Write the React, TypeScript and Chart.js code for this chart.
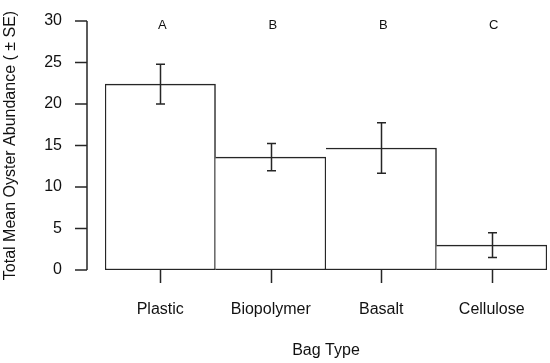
import React, { useEffect, useRef } from 'react';
import { Chart, registerables } from 'chart.js';

Chart.register(...registerables);

const categories = ['Plastic', 'Biopolymer', 'Basalt', 'Cellulose'];
const means = [22.4, 13.6, 14.7, 3.0];
const standardErrors = [2.4, 1.65, 3.05, 1.5];
const groupLetters = ['A', 'B', 'B', 'C'];
const yTicks = [0, 5, 10, 15, 20, 25, 30];
const letterLevel = 29.5;

const INK = '#262626';
const FONT = '"Liberation Sans", Arial, sans-serif';

const overlay = {
  id: 'overlay',
  afterDatasetsDraw(chart: any) {
    const { ctx, chartArea } = chart;
    const xs = chart.scales.x;
    const ys = chart.scales.y;
    ctx.save();
    ctx.strokeStyle = INK;
    ctx.lineWidth = 1.5;
    ctx.lineCap = 'butt';

    // error bars
    const meta = chart.getDatasetMeta(0);
    meta.data.forEach((bar: any, i: number) => {
      const cx = Math.round(bar.x) + 0.5;
      const top = ys.getPixelForValue(means[i] + standardErrors[i]);
      const bot = ys.getPixelForValue(means[i] - standardErrors[i]);
      ctx.beginPath();
      ctx.moveTo(cx, top);
      ctx.lineTo(cx, bot);
      ctx.moveTo(cx - 4.5, top);
      ctx.lineTo(cx + 4.5, top);
      ctx.moveTo(cx - 4.5, bot);
      ctx.lineTo(cx + 4.5, bot);
      ctx.stroke();
    });

    // y axis line and ticks
    const axX = chartArea.left - 18;
    ctx.beginPath();
    ctx.moveTo(axX, ys.getPixelForValue(yTicks[0]));
    ctx.lineTo(axX, ys.getPixelForValue(yTicks[yTicks.length - 1]));
    yTicks.forEach((v) => {
      const py = ys.getPixelForValue(v);
      ctx.moveTo(axX - 12, py);
      ctx.lineTo(axX, py);
    });
    ctx.stroke();

    // x ticks
    ctx.beginPath();
    categories.forEach((_, i) => {
      const px = Math.round(xs.getPixelForValue(i)) + 0.5;
      ctx.moveTo(px, chartArea.bottom);
      ctx.lineTo(px, chartArea.bottom + 13);
    });
    ctx.stroke();

    // group letters
    ctx.fillStyle = '#111';
    ctx.font = `13px ${FONT}`;
    ctx.textAlign = 'center';
    ctx.textBaseline = 'middle';
    groupLetters.forEach((t, i) => {
      ctx.fillText(t, xs.getPixelForValue(i) + 2, ys.getPixelForValue(letterLevel));
    });
    ctx.restore();
  },
};

export default function App() {
  const ref = useRef<HTMLCanvasElement | null>(null);
  useEffect(() => {
    document.body.style.margin = '0';
    const canvas = ref.current;
    if (!canvas) return;
    const chart = new Chart(canvas, {
      type: 'bar',
      data: {
        labels: categories,
        datasets: [
          {
            data: means,
            backgroundColor: '#ffffff',
            borderColor: INK,
            borderWidth: (c: any) => ({
              top: 1.5,
              bottom: 1.5,
              right: 1.5,
              left: c.dataIndex === 0 ? 1.5 : 0,
            }),
            borderSkipped: false,
            categoryPercentage: 1,
            barPercentage: 1,
          },
        ],
      },
      options: {
        animation: false,
        responsive: false,
        devicePixelRatio: 1,
        layout: { padding: { top: 21, right: 3, left: 0, bottom: 0 } },
        plugins: { legend: { display: false }, tooltip: { enabled: false } },
        scales: {
          x: {
            grid: { display: false, drawTicks: false },
            border: { display: false },
            ticks: { padding: 30, color: '#111', font: { size: 16, family: FONT } },
            title: {
              display: true,
              text: 'Bag Type',
              color: '#111',
              font: { size: 16, family: FONT },
              padding: { top: 0, bottom: 3 },
            },
            afterFit: (s: any) => {
              s.height = 93;
              s.paddingLeft = 0;
              s.paddingRight = 0;
            },
          },
          y: {
            min: 0,
            max: 30,
            grid: { display: false, drawTicks: false },
            border: { display: false },
            afterBuildTicks: (s: any) => {
              s.ticks = yTicks.map((v) => ({ value: v }));
            },
            ticks: { padding: 43, color: '#111', font: { size: 16, family: FONT } },
            title: {
              display: true,
              text: 'Total Mean Oyster Abundance ( ± SE)',
              color: '#111',
              font: { size: 16, family: FONT },
              padding: { top: 1, bottom: 0 },
            },
            afterFit: (s: any) => {
              s.width = 105;
              s.paddingTop = 0;
              s.paddingBottom = 0;
            },
          },
        },
      },
      plugins: [overlay],
    });
    return () => chart.destroy();
  }, []);
  return <canvas ref={ref} width={550} height={363} style={{ display: 'block' }} />;
}
